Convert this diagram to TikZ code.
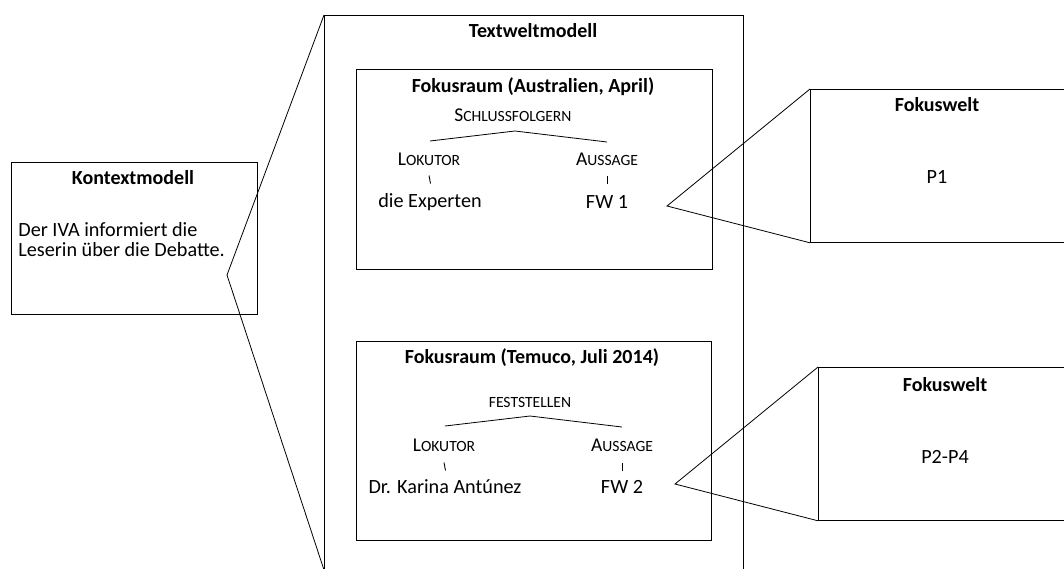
\documentclass[tikz,border=0pt]{standalone}
\usepackage{fontspec}
\setmainfont{Carlito}
\newcommand{\fsc}[2]{{\fontsize{19.5}{22}\selectfont #1}{\fontsize{15.6}{18}\selectfont #2}}
\begin{document}
\begin{tikzpicture}[x=1pt,y=-1pt,line width=0.8pt,
  box/.style={draw,inner sep=0pt,anchor=north west},
  title/.style={font=\fontsize{20}{24}\selectfont\bfseries,inner sep=0pt},
  txt/.style={font=\fontsize{20.2}{24}\selectfont,inner sep=0pt},
  sctxt/.style={inner sep=0pt},
  tick/.style={line width=0.9pt}]
\clip (0,0) rectangle (1064,568);
\fill[white] (0,0) rectangle (1064,568);
% boxes
\node[box,minimum width=246pt,minimum height=152pt] (kontext) at (11,162) {};
\node[box,minimum width=419pt,minimum height=570pt] (textwelt) at (324,15) {};
\node[box,minimum width=356pt,minimum height=200pt] (fr1) at (356,69) {};
\node[box,minimum width=355pt,minimum height=199pt] (fr2) at (356,341) {};
\node[box,minimum width=265pt,minimum height=153pt] (fw1) at (810,89) {};
\node[box,minimum width=257pt,minimum height=153pt] (fw2) at (818,367) {};
% wedges
\coordinate (kapex) at (227,275);
\coordinate (kbot) at (324,570);
\draw (textwelt.north west) -- (kapex) -- (kbot);
\coordinate (a1) at (667,206);
\draw (fw1.north west) -- (a1) -- (fw1.south west);
\coordinate (a2) at (675,484);
\draw (fw2.north west) -- (a2) -- (fw2.south west);
% Kontextmodell
\node[title] (kt) at (133,178) {Kontextmodell};
\node[txt,anchor=west] (k1) at (18,230) {Der IVA informiert die};
\node[txt,anchor=west] (k2) at (18,250) {Leserin über die Debatte.};
% Textweltmodell
\node[title] (tt) at (533,31) {Textweltmodell};
% Fokusraum 1
\node[title] (f1t) at (533,87) {Fokusraum (Australien, April)};
\node[sctxt] (s1) at (513,115) {\fsc{S}{CHLUSSFOLGERN}};
\coordinate (s1a) at (515,131);
\coordinate (s1l) at (430,141);
\coordinate (s1r) at (607,142);
\draw (s1l) -- (s1a) -- (s1r);
\node[sctxt] (l1) at (429,159) {\fsc{L}{OKUTOR}};
\node[sctxt] (au1) at (607,159) {\fsc{A}{USSAGE}};
\node[txt] (e1) at (430,202) {die Experten};
\node[txt] (fw1t) at (607,202) {FW 1};
\draw[tick] (429,175.5) -- (430.5,183.5);
\draw[tick] (607,175.5) -- (607,183.5);
% Fokusraum 2
\node[title] (f2t) at (532,358) {Fokusraum (Temuco, Juli 2014)};
\node[sctxt] (s2) at (530,402) {\fontsize{15.6}{18}\selectfont FESTSTELLEN};
\coordinate (s2a) at (530,416);
\coordinate (s2l) at (445,426);
\coordinate (s2r) at (622,427);
\draw (s2l) -- (s2a) -- (s2r);
\node[sctxt] (l2) at (444,445) {\fsc{L}{OKUTOR}};
\node[sctxt] (au2) at (622,445) {\fsc{A}{USSAGE}};
\node[txt] (e2) at (445,487) {Dr. Karina Antúnez};
\node[txt] (fw2t) at (622,487) {FW 2};
\draw[tick] (444,462.5) -- (445.5,470.5);
\draw[tick] (622,462.5) -- (622,470.5);
% Fokuswelten
\node[title] (w1t) at (937,105) {Fokuswelt};
\node[txt] (p1) at (937,177) {P1};
\node[title] (w2t) at (945,385) {Fokuswelt};
\node[txt] (p2) at (945,457) {P2-P4};
\end{tikzpicture}
\end{document}
